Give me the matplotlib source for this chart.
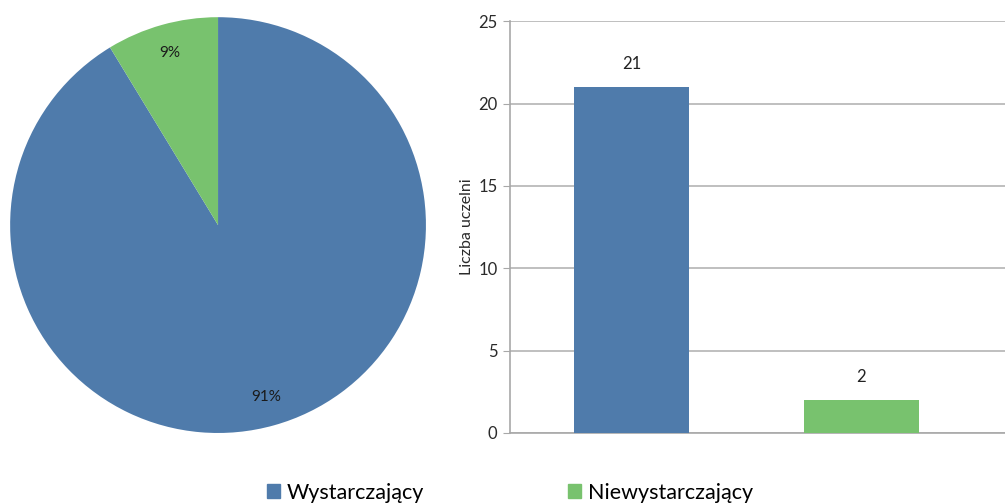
import matplotlib.pyplot as plt
from matplotlib.patches import Patch

categories = ['Wystarczający', 'Niewystarczający']
counts = [21, 2]
colors = ['#4f7bab', '#78c26e']
y_ticks = [0, 5, 10, 15, 20, 25]

plt.rcParams['font.family'] = ['Lato', 'DejaVu Sans']

fig = plt.figure(figsize=(10.05, 5.04), dpi=100)

# pie on the left
ax_pie = fig.add_axes([0.00995, 0.1409, 0.414, 0.825])
wedges, texts, autotexts = ax_pie.pie(
    counts, colors=colors, startangle=90, counterclock=False,
    autopct=lambda p: '{:.0f}%'.format(p), pctdistance=0.86,
    textprops={'fontsize': 11, 'color': '#1a1a1a'})
ax_pie.set_xlim(-1, 1)
ax_pie.set_ylim(-1, 1)
ax_pie.set_aspect('equal')

# bar chart on the right
ax = fig.add_axes([0.5075, 0.1409, 0.4925, 0.817])
x = list(range(len(counts)))
bars = ax.bar(x, counts, width=0.5, color=colors, zorder=3)
for xi, v in zip(x, counts):
    ax.text(xi, v + 0.9, str(v), ha='center', va='bottom', fontsize=12, color='#222222')

ax.set_xlim(-0.528, 1.624)
ax.set_ylim(0, 25)
ax.set_yticks(y_ticks)
ax.set_xticks([])
ax.yaxis.grid(True, color='#b4b4b4', linewidth=1.2, zorder=0)
for s in ['top', 'right']:
    ax.spines[s].set_visible(False)
for s in ['left', 'bottom']:
    ax.spines[s].set_color('#a8a8a8')
    ax.spines[s].set_linewidth(1.2)
ax.tick_params(axis='y', length=5, color='#a8a8a8', labelsize=12, labelcolor='#2a2a2a', pad=4)
ax.set_ylabel('Liczba uczelni', fontsize=11.5, color='#2a2a2a', labelpad=3)

handles = [Patch(color=c) for c in colors]
fig.legend(handles, categories, loc='center left', bbox_to_anchor=(0.266, 0.022), ncol=2,
           frameon=False, fontsize=15.5, handlelength=0.6, handleheight=0.6,
           handletextpad=0.3, columnspacing=6.7, borderpad=0, borderaxespad=0)

fig.savefig('out.png', dpi=100)
